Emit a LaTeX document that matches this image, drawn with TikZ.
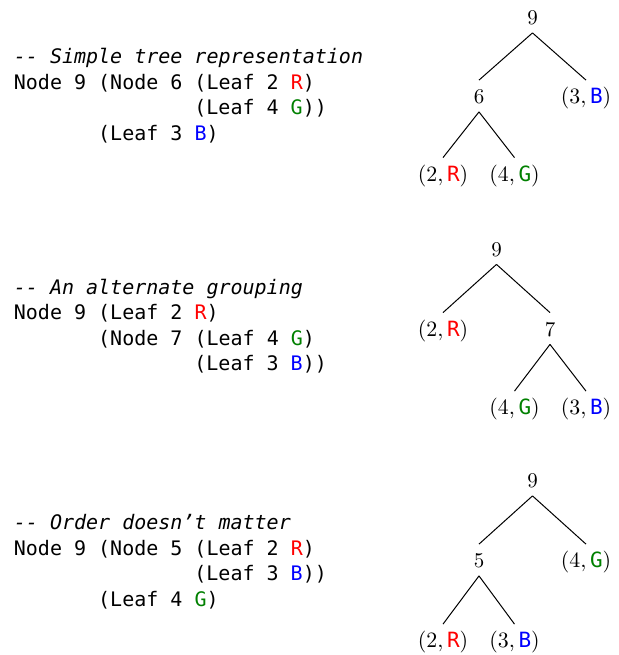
\documentclass[tikz,border=0pt]{standalone}
\usepackage{fontspec}
\newfontfamily\codefont{DejaVu Sans Mono}

\definecolor{leafred}{RGB}{255,0,0}
\definecolor{leafgreen}{RGB}{0,128,0}
\definecolor{leafblue}{RGB}{0,0,255}
\newcommand{\colR}{\textcolor{leafred}{R}}
\newcommand{\colG}{\textcolor{leafgreen}{G}}
\newcommand{\colB}{\textcolor{leafblue}{B}}
\newcommand{\leafpair}[2]{$(#1,\mbox{\codefont #2})$}

\begin{document}
\begin{tikzpicture}[x=.5pt,y=-.5pt,
    codeline/.style={anchor=base west,inner sep=0pt,font=\codefont},
    cmtline/.style={codeline,font=\codefont\itshape},
    tn/.style={inner sep=4pt,text height=7.5pt,text depth=0pt,
      font=\fontsize{10.5}{12}\selectfont}]
\useasboundingbox (0,0) rectangle (618,655);

 % code, first grouping
 \node[cmtline] (a0) at (13.5,63) {-- Simple tree representation};
 \node[codeline] (a1) at (13.5,89) {Node 9 (Node 6 (Leaf 2 \colR)};
 \node[codeline] (a2) at (194,114.5) {(Leaf 4 \colG))};
 \node[codeline] (a3) at (97.8,140) {(Leaf 3 \colB)};

 % code, second grouping
 \node[cmtline] (b0) at (13.5,294) {-- An alternate grouping};
 \node[codeline] (b1) at (13.5,319.5) {Node 9 (Leaf 2 \colR)};
 \node[codeline] (b2) at (97.8,345) {(Node 7 (Leaf 4 \colG)};
 \node[codeline] (b3) at (194,370.5) {(Leaf 3 \colB))};

 % code, third grouping
 \node[cmtline] (c0) at (13.5,529) {-- Order doesn’t matter};
 \node[codeline] (c1) at (13.5,555) {Node 9 (Node 5 (Leaf 2 \colR)};
 \node[codeline] (c2) at (194,580.5) {(Leaf 3 \colB))};
 \node[codeline] (c3) at (97.8,606) {(Leaf 4 \colG)};

 % trees
 \node[tn] (A9) at (532.5,17) {9};
 \node[tn] (A6) at (479,96) {6};
 \node[tn] (A3B) at (586,96) {\leafpair{3}{\colB}};
 \node[tn] (A2R) at (443,173.5) {\leafpair{2}{\colR}};
 \node[tn] (A4G) at (514.5,173.5) {\leafpair{4}{\colG}};

 \node[tn] (B9) at (496.5,248.5) {9};
 \node[tn] (B2R) at (443,328.5) {\leafpair{2}{\colR}};
 \node[tn] (B7) at (550,328.5) {7};
 \node[tn] (B4G) at (514.5,407) {\leafpair{4}{\colG}};
 \node[tn] (B3B) at (586,407) {\leafpair{3}{\colB}};

 \node[tn] (C9) at (532.5,480) {9};
 \node[tn] (C5) at (479,560) {5};
 \node[tn] (C4G) at (586,560) {\leafpair{4}{\colG}};
 \node[tn] (C2R) at (443,640) {\leafpair{2}{\colR}};
 \node[tn] (C3B) at (514.5,640) {\leafpair{3}{\colB}};

\foreach \f/\t in {A9/A6,A9/A3B,A6/A2R,A6/A4G,B9/B2R,B9/B7,B7/B4G,B7/B3B,C9/C5,C9/C4G,C5/C2R,C5/C3B}
 \draw[line width=.5pt] (\f.south) -- (\t.north);
\end{tikzpicture}
\end{document}
